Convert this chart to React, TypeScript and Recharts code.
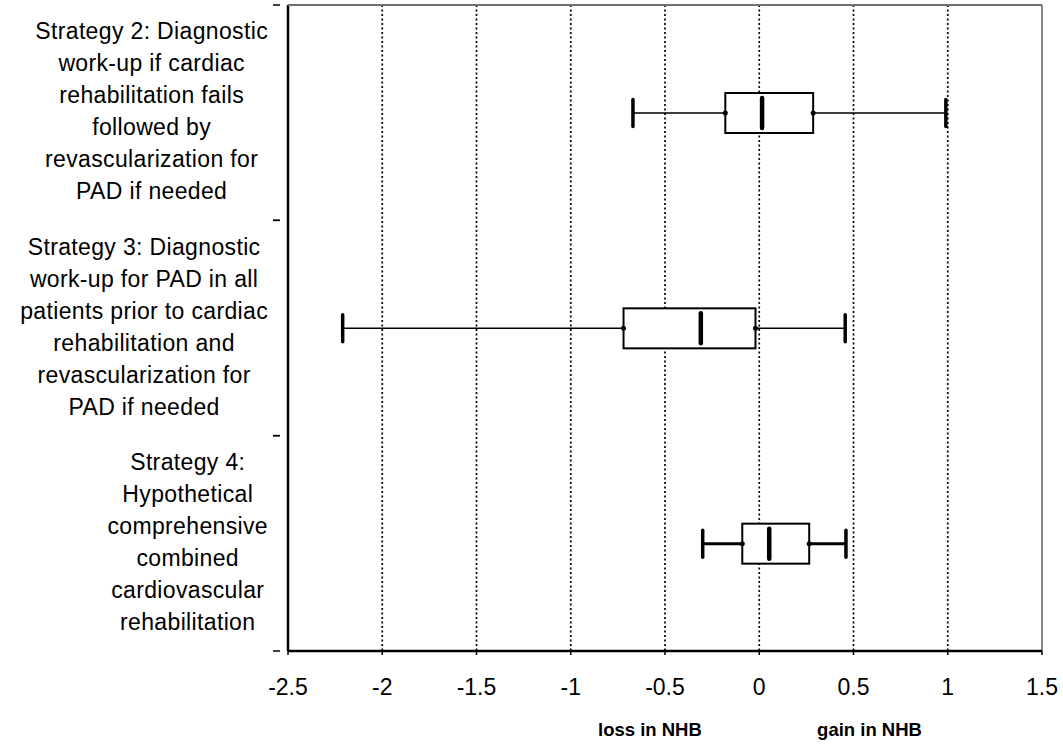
import React from "react";
import {
  ComposedChart,
  Bar,
  XAxis,
  YAxis,
  CartesianGrid,
  ReferenceLine,
} from "recharts";

const categories = [
  "Strategy 2: Diagnostic\nwork-up if cardiac\nrehabilitation fails\nfollowed by\nrevascularization for\nPAD if needed",
  "Strategy 3: Diagnostic\nwork-up for PAD in all\npatients prior to cardiac\nrehabilitation and\nrevascularization for\nPAD if needed",
  "Strategy 4:\nHypothetical\ncomprehensive\ncombined\ncardiovascular\nrehabilitation",
];
const whiskerLow = [-0.67, -2.21, -0.3];
const quartile1 = [-0.18, -0.72, -0.09];
const medians = [0.015, -0.31, 0.053];
const quartile3 = [0.286, -0.02, 0.265];
const whiskerHigh = [0.99, 0.456, 0.46];
const xTicks = [-2.5, -2, -1.5, -1, -0.5, 0, 0.5, 1, 1.5];
const lossLabel = "loss in NHB";
const gainLabel = "gain in NHB";
const lossPos = -0.58;
const gainPos = 0.585;

const rows = categories.map((name, i) => ({
  name,
  lo: whiskerLow[i],
  q1: quartile1[i],
  med: medians[i],
  q3: quartile3[i],
  hi: whiskerHigh[i],
}));

const CHART_W = 1063;
const CHART_H = 745;
const Y_AXIS_W = 288;
const MARGIN = { top: 5, right: 21, bottom: 44, left: 0 };
const WHISKER_WIDTHS = [1.5, 1.5, 3];
const FONT = "'Liberation Sans', Arial, sans-serif";
const LABEL_FONT_SIZE = 23;
const LETTER_SP = 0.35;
const LABEL_RIGHT = 268;
const LINE_H = 32;

let ctx: CanvasRenderingContext2D | null = null;
function measure(s: string): number {
  if (!ctx) {
    const c = document.createElement("canvas");
    ctx = c.getContext("2d");
  }
  if (!ctx) return s.length * LABEL_FONT_SIZE * 0.5;
  ctx.font = `${LABEL_FONT_SIZE}px 'Liberation Sans'`;
  return ctx.measureText(s).width + s.length * LETTER_SP;
}

const CategoryTick = (props: any) => {
  const { x, y, payload } = props;
  const lines: string[] = String(payload.value).split("\n");
  const maxW = Math.max(...lines.map(measure));
  const cx = LABEL_RIGHT - maxW / 2;
  const first = y - ((lines.length - 1) / 2) * LINE_H + 6.5;
  const half = typeof payload.offset === "number" && payload.offset > 0 ? payload.offset : 107.7;
  const ax = x;
  return (
    <g>
      <line x1={ax - 7} x2={ax} y1={y - half} y2={y - half} stroke="#000" strokeWidth={1.5} />
      <line x1={ax - 7} x2={ax} y1={y + half} y2={y + half} stroke="#000" strokeWidth={1.5} />
      <text
        textAnchor="middle"
        fontFamily={FONT}
        fontSize={LABEL_FONT_SIZE}
        letterSpacing={LETTER_SP}
        fill="#000"
      >
        {lines.map((l, i) => (
          <tspan key={i} x={cx} y={first + i * LINE_H}>
            {l}
          </tspan>
        ))}
      </text>
    </g>
  );
};

const BoxShape = (props: any) => {
  const { x, y, width, height, payload, index } = props;
  const { lo, q1, med, q3, hi } = payload;
  const k = width / (hi - lo);
  const px = (v: number) => x + (v - lo) * k;
  const cy = y + height / 2;
  const ww = WHISKER_WIDTHS[index] ?? 1.5;
  return (
    <g>
      <line x1={px(lo)} x2={px(q1)} y1={cy} y2={cy} stroke="#000" strokeWidth={ww} />
      <line x1={px(q3)} x2={px(hi)} y1={cy} y2={cy} stroke="#000" strokeWidth={ww} />
      <line x1={px(lo)} x2={px(lo)} y1={cy - 13.5} y2={cy + 13.5} stroke="#000" strokeWidth={3.5} strokeLinecap="round" />
      <line x1={px(hi)} x2={px(hi)} y1={cy - 13.5} y2={cy + 13.5} stroke="#000" strokeWidth={3.5} strokeLinecap="round" />
      <rect
        x={px(q1)}
        y={y}
        width={px(q3) - px(q1)}
        height={height}
        fill="#fff"
        stroke="#000"
        strokeWidth={2}
      />
      <circle cx={px(q1)} cy={cy} r={2.5} fill="#000" />
      <circle cx={px(q3)} cy={cy} r={2.5} fill="#000" />
      <line x1={px(med)} x2={px(med)} y1={cy - 15} y2={cy + 15} stroke="#000" strokeWidth={4.5} strokeLinecap="round" />
    </g>
  );
};

const bottomLabel = (value: string) => ({
  value,
  position: "bottom" as const,
  offset: 72,
  fontSize: 18.5,
  fontWeight: "bold",
  fill: "#000",
  fontFamily: FONT,
});

export default function App() {
  const plotLeft = MARGIN.left + Y_AXIS_W;
  const plotRight = CHART_W - MARGIN.right;
  return (
    <div style={{ position: "absolute", left: 0, top: 0, width: CHART_W, height: CHART_H, background: "#fff" }}>
      <ComposedChart
        width={CHART_W}
        height={CHART_H}
        data={rows}
        layout="vertical"
        margin={MARGIN}
      >
        <CartesianGrid
          horizontal={false}
          vertical
          yAxisId="cat"
          stroke="#000"
          strokeWidth={1.7}
          strokeDasharray="2 2.5"
        />
        <XAxis
          type="number"
          domain={[-2.5, 1.5]}
          ticks={xTicks}
          interval={0}
          height={50}
          allowDataOverflow
          axisLine={{ stroke: "#000", strokeWidth: 2.5 }}
          tickLine={{ stroke: "#000", strokeWidth: 1.5 }}
          tickSize={4}
          tickMargin={24}
          tick={{ fontSize: 23, fill: "#000", fontFamily: FONT }}
        />
        <YAxis
          yAxisId="cat"
          type="category"
          dataKey="name"
          width={Y_AXIS_W}
          axisLine={{ stroke: "#000", strokeWidth: 2.5 }}
          tickLine={false}
          interval={0}
          tick={<CategoryTick />}
        />
        <Bar
          yAxisId="cat"
          dataKey={(d: any) => [d.lo, d.hi]}
          barSize={40}
          shape={<BoxShape />}
          isAnimationActive={false}
        />
        <ReferenceLine yAxisId="cat" x={1.5} stroke="#888" strokeWidth={2} />
        <ReferenceLine yAxisId="cat" x={lossPos} stroke="none" label={bottomLabel(lossLabel)} />
        <ReferenceLine yAxisId="cat" x={gainPos} stroke="none" label={bottomLabel(gainLabel)} />
      </ComposedChart>
      <div
        style={{
          position: "absolute",
          left: plotLeft,
          top: MARGIN.top - 1,
          width: plotRight - plotLeft,
          height: 2,
          background: "#707070",
          pointerEvents: "none",
        }}
      />
    </div>
  );
}
